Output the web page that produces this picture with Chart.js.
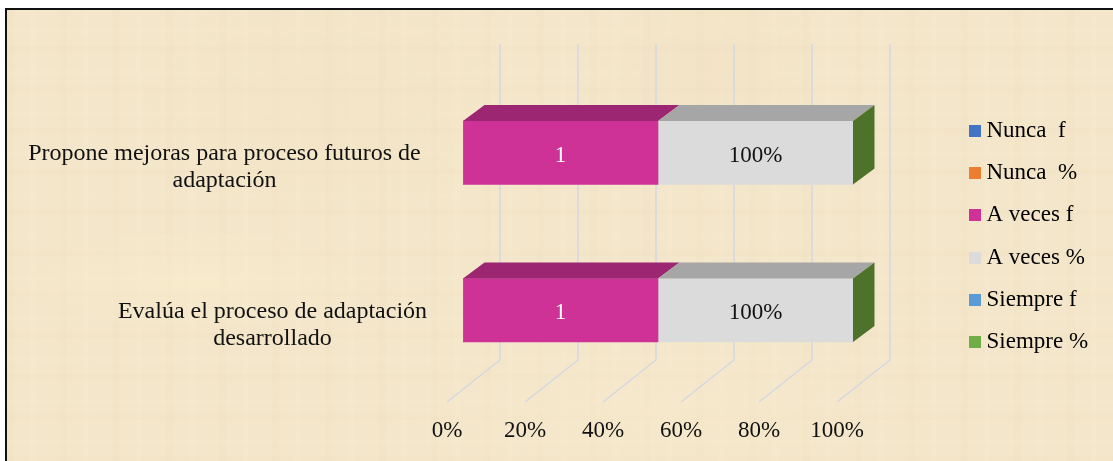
<!DOCTYPE html>
<html lang="es">
<head>
<meta charset="utf-8">
<style>
html,body{margin:0;padding:0;background:#fff;}
#wrap{position:relative;width:1113px;height:461px;overflow:hidden;background:#fff;}
#paper{position:absolute;left:5px;top:8px;right:0;bottom:0;border-left:2px solid #111;border-top:2px solid #111;
 background-color:#f4e6ca;
 background-image:
  radial-gradient(ellipse 180px 50px at 190px 270px,rgba(250,240,205,.5),transparent),
  radial-gradient(ellipse 120px 90px at 700px 60px,rgba(238,222,188,.4),transparent),
  radial-gradient(ellipse 260px 90px at 640px 400px,rgba(248,234,205,.5),transparent),
  radial-gradient(ellipse 200px 120px at 320px 90px,rgba(240,224,190,.35),transparent),
  repeating-linear-gradient(90deg,rgba(225,205,165,.07) 0 7px,transparent 7px 23px,rgba(255,246,220,.07) 23px 29px,transparent 29px 53px),
  repeating-linear-gradient(0deg,rgba(225,205,165,.07) 0 5px,transparent 5px 17px,rgba(255,246,220,.06) 17px 22px,transparent 22px 41px);}
canvas{position:absolute;left:0;top:0;}
</style>
</head>
<body>
<div id="wrap"><div id="paper"></div><canvas id="c" width="1113" height="461"></canvas></div>
<script src="https://cdn.jsdelivr.net/npm/chart.js@4"></script>
<script>
const categories = [
  ["Propone mejoras para proceso futuros de", "adaptación"],
  ["Evalúa el proceso de adaptación", "desarrollado"]
];
const nuncaF = [0, 0];
const nuncaP = [0, 0];
const aVecesF = [1, 1];
const aVecesP = [1, 1];
const siempreF = [0, 0];
const siempreP = [0, 0];
const seriesNames = ["Nunca  f", "Nunca  %", "A veces f", "A veces %", "Siempre f", "Siempre %"];
const seriesColors = ["#4472c4", "#ed7d31", "#cf3296", "#dbdbdb", "#5b9bd5", "#70ad47"];
const topColors = ["#335693", "#b25e25", "#9c2672", "#a6a6a6", "#44749f", "#547f35"];
const percentSeries = [false, true, false, true, false, true];
const xTicks = [0, 0.4, 0.8, 1.2, 1.6, 2];

const FONT = '"Liberation Serif", "Times New Roman", serif';
const FS = 23, CAT_FS = 24;
const DEPTH_X = 21.5, DEPTH_Y = 16;
const WALL_DX = 37, WALL_TOP = 44, WALL_BOTTOM = 360;
const FLOOR_DX = -16, FLOOR_BOTTOM = 402;
const SIDE_COLOR = "#4c7329";
const CAT_CENTER = [224.5, 272.5];
const CAT_DY = 14.5;

function legendSwatch(color) {
  const s = document.createElement("canvas");
  s.width = 12; s.height = 12;
  const g = s.getContext("2d");
  g.fillStyle = color; g.fillRect(0, 0, 12, 12);
  return s;
}

const box3d = {
  id: "box3d",
  beforeLayout(chart) {
    const l = chart.legend;
    if (l && !l._wrappedFit) {
      const fit = l.fit;
      l.fit = function () { fit.call(this); this.width = 260; };
      l._wrappedFit = true;
    }
  },
  afterLayout(chart) {
    const l = chart.legend, pad = chart.options.plugins.legend.labels.padding;
    const w = l.width;
    l.left = 974 - pad; l.right = l.left + w;
    l.top = 119.5 - pad; l.bottom = 461;
  },
  beforeDatasetsDraw(chart) {
    const { ctx, scales: { x } } = chart;
    ctx.save();
    ctx.strokeStyle = "#d3d8e2";
    ctx.lineWidth = 1.5;
    x.ticks.forEach(t => {
      const p = x.getPixelForValue(t.value);
      ctx.beginPath();
      ctx.moveTo(p + WALL_DX, WALL_TOP);
      ctx.lineTo(p + WALL_DX, WALL_BOTTOM);
      ctx.lineTo(p + FLOOR_DX, FLOOR_BOTTOM);
      ctx.stroke();
    });
    ctx.restore();
  },
  afterDatasetsDraw(chart) {
    const { ctx } = chart;
    ctx.save();
    const last = chart.data.datasets.length - 1;
    chart.data.datasets.forEach((ds, di) => {
      chart.getDatasetMeta(di).data.forEach((bar, i) => {
        const left = bar.base, right = bar.x;
        const top = bar.y - bar.height / 2, bottom = bar.y + bar.height / 2;
        if (right - left > 0.5) {
          ctx.fillStyle = topColors[di];
          ctx.beginPath();
          ctx.moveTo(left, top);
          ctx.lineTo(left + DEPTH_X, top - DEPTH_Y);
          ctx.lineTo(right + DEPTH_X, top - DEPTH_Y);
          ctx.lineTo(right, top);
          ctx.closePath();
          ctx.fill();
          ctx.font = FS + "px " + FONT;
          ctx.textAlign = "center";
          ctx.textBaseline = "middle";
          ctx.fillStyle = percentSeries[di] ? "#111" : "#fff";
          const v = ds.data[i];
          ctx.fillText(percentSeries[di] ? (v * 100) + "%" : String(v), (left + right) / 2, bar.y + 3);
        }
        if (di === last) {
          ctx.fillStyle = SIDE_COLOR;
          ctx.beginPath();
          ctx.moveTo(right, top);
          ctx.lineTo(right + DEPTH_X, top - DEPTH_Y);
          ctx.lineTo(right + DEPTH_X, bottom - DEPTH_Y);
          ctx.lineTo(right, bottom);
          ctx.closePath();
          ctx.fill();
        }
      });
    });
    // category labels: lines centred inside each block
    const y = chart.scales.y;
    ctx.font = CAT_FS + "px " + FONT;
    ctx.textAlign = "center";
    ctx.textBaseline = "middle";
    ctx.fillStyle = "#111";
    categories.forEach((lines, i) => {
      const c = y.getPixelForValue(i) + CAT_DY;
      lines.forEach((line, k) => {
        ctx.fillText(line, CAT_CENTER[i], c + (k - (lines.length - 1) / 2) * 27);
      });
    });
    ctx.restore();
  }
};

const series = [nuncaF, nuncaP, aVecesF, aVecesP, siempreF, siempreP];

new Chart(document.getElementById("c"), {
  type: "bar",
  data: {
    labels: categories,
    datasets: series.map((data, i) => ({
      label: seriesNames[i],
      data,
      backgroundColor: seriesColors[i],
      borderWidth: 0,
      barThickness: 63.5
    }))
  },
  options: {
    indexAxis: "y",
    responsive: false,
    animation: false,
    devicePixelRatio: 1,
    layout: { padding: { top: 74, left: 0, right: 0, bottom: 0 } },
    font: { family: FONT },
    scales: {
      x: {
        stacked: true, min: 0, max: 2,
        grid: { display: false, drawTicks: false }, border: { display: false },
        afterBuildTicks(s) { s.ticks = xTicks.map(value => ({ value })); },
        afterFit(s) { s.height = 72; },
        ticks: {
          autoSkip: false, maxRotation: 0, labelOffset: FLOOR_DX, padding: 28,
          color: "#111", font: { family: FONT, size: FS },
          callback: v => Math.round(v * 50) + "%"
        }
      },
      y: {
        stacked: true,
        grid: { display: false, drawTicks: false }, border: { display: false },
        afterFit(s) { s.width = 463; },
        ticks: { display: false }
      }
    },
    plugins: {
      tooltip: { enabled: false },
      legend: {
        display: true, position: "right", align: "start",
        labels: {
          usePointStyle: true, pointStyleWidth: 1, padding: 19.2,
          color: "#111", font: { family: FONT, size: FS },
          generateLabels: () => seriesNames.map((text, i) => ({
            text, datasetIndex: i, fillStyle: seriesColors[i], strokeStyle: seriesColors[i],
            lineWidth: 0, hidden: false, pointStyle: legendSwatch(seriesColors[i])
          }))
        }
      }
    }
  },
  plugins: [box3d]
});
</script>
</body>
</html>
